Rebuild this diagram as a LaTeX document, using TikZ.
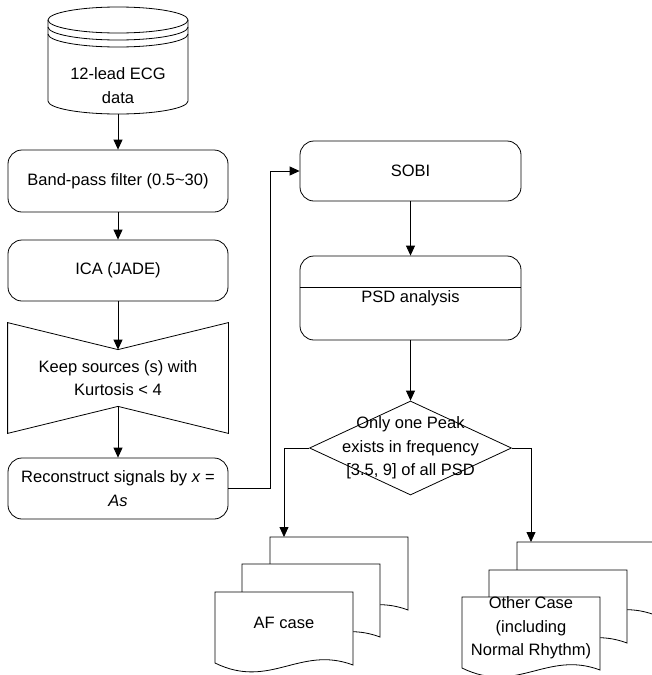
\documentclass[tikz,border=0pt]{standalone}
\usepackage{fontspec}
\setmainfont{Liberation Sans}
\usetikzlibrary{arrows.meta,shapes.geometric}

\newcommand{\flowfont}{\fontsize{16.5}{23.5}\selectfont}

\tikzset{
  flow/.style={font=\flowfont, align=center, inner sep=0pt},
  proc/.style={flow, draw, rounded corners=14pt, minimum width=220pt},
  decision/.style={draw, diamond, inner sep=0pt, minimum width=202pt, minimum height=94pt},
  arr/.style={-{Triangle[length=10pt,width=9pt]}},
}

\begin{document}
\begin{tikzpicture}[x=1pt, y=-1pt, line width=.8pt]
  \clip (0,0) rectangle (652,675);

  \pgfmathsetmacro{\rx}{70}
  \pgfmathsetmacro{\ry}{13}

  \draw (118,20) ellipse [x radius=\rx pt, y radius=\ry pt];
  \foreach \dy in {7,14}{
    \draw (48,20+\dy) arc [start angle=180, end angle=360, x radius=\rx pt, y radius=\ry pt];
  }
  \draw (48,20) -- (48,101) arc [start angle=180, end angle=360, x radius=\rx pt, y radius=\ry pt] -- (188,20);
  \node[flow] (ecg) at (118,85.5) {12-lead ECG\\data};
  \coordinate (ecgbase) at (118,114);

  \node[proc, minimum height=62pt] (bpf) at (118,181) {Band-pass filter (0.5\textasciitilde30)};
  \node[proc, minimum height=61pt] (ica) at (118,270.5) {ICA (JADE)};
  \node[flow, minimum width=220pt, minimum height=110pt] (keep) at (118,378) {Keep sources (s) with\\Kurtosis < 4};
  \draw (keep.north west) -- ([yshift=-27pt]keep.north) -- (keep.north east)
    -- (keep.south east) -- ([yshift=27pt]keep.south) -- (keep.south west) -- cycle;
  \node[proc, minimum height=61pt] (rec) at (118,488.5) {Reconstruct signals by \textit{x} =\\\textit{As}};

  \node[proc, minimum width=221pt, minimum height=60pt] (sobi) at (410.5,171) {SOBI};
  \node[proc, minimum width=221pt, minimum height=84pt] (psd) at (410.5,298) {PSD analysis};
  \draw ([yshift=-32pt]psd.north west) -- ([yshift=-32pt]psd.north east);

  \node[decision] (peak) at (410.5,448) {};
  \node[flow] (peaktext) at (peak.center) {Only one Peak\\exists in frequency\\{[3.5, 9] of all PSD}};

  \foreach \x/\y in {270/537, 242/564, 215/592, 517/542, 489/570, 462/597}{
    \draw[fill=white] (\x,\y) -- ++(138,0) -- ++(0,73)
      .. controls +(-53,-20) and +(55,27) .. ++(-138,-2) -- cycle;
  }
  \node[flow] (af) at (284,623) {AF case};
  \node[flow] (other) at (531,628) {Other Case\\(including\\Normal Rhythm)};
  \coordinate (afin) at (284,537);
  \coordinate (otherin) at (531,542);

  \draw[arr] (ecgbase) -- (bpf);
  \draw[arr] (bpf) -- (ica);
  \draw[arr] (ica) -- ([yshift=-27pt]keep.north);
  \draw[arr] ([yshift=27pt]keep.south) -- (rec);
  \draw[arr] (rec.east) -- ++(42,0) |- (sobi.west);
  \draw[arr] (sobi) -- (psd);
  \draw[arr] (psd) -- (peak);
  \draw[arr] (peak.west) -| (afin);
  \draw[arr] (peak.east) -| (otherin);
\end{tikzpicture}
\end{document}
